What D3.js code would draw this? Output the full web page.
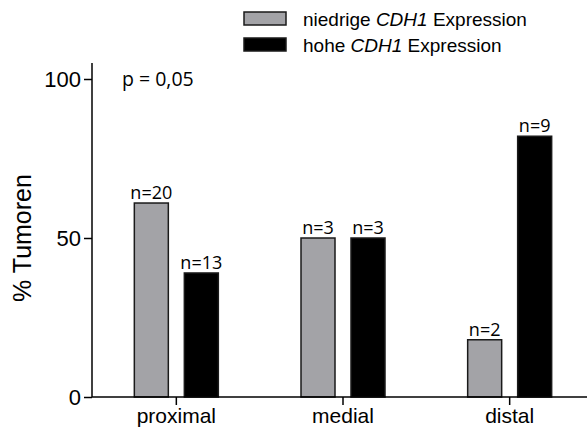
<!DOCTYPE html>
<html><head><meta charset="utf-8">
<script src="https://cdn.jsdelivr.net/npm/d3@7"></script>
<style>body{margin:0;background:#fff}svg{display:block}</style>
</head><body>
<script>
const categories = ["proximal", "medial", "distal"];
const seriesNames = ["niedrige", "hohe"];
const lowValues = [61, 50, 18];
const highValues = [39, 50, 82];
const lowCounts = ["n=20", "n=3", "n=2"];
const highCounts = ["n=13", "n=3", "n=9"];
const yTicks = [0, 50, 100];
const pText = "p = 0,05";

const W = 587, H = 434;
const svg = d3.select("body").append("svg").attr("width", W).attr("height", H);

const x0 = d3.scaleBand().domain(categories).range([93, 593]).padding(0);
const x1 = d3.scaleBand().domain([0, 1]).range([-42, 42]).paddingInner(0.32).paddingOuter(0);
const y = d3.scaleLinear().domain([0, 100]).range([397, 79]);

const colors = ["#a3a3a7", "#000000"];
const series = [lowValues, highValues];
const counts = [lowCounts, highCounts];

// bars
series.forEach((vals, si) => {
  const g = svg.append("g");
  g.selectAll("rect").data(vals).join("rect")
    .attr("x", (d, i) => x0(categories[i]) + x0.bandwidth() / 2 + x1(si))
    .attr("y", d => y(d))
    .attr("width", x1.bandwidth())
    .attr("height", d => y(0) - y(d))
    .attr("fill", colors[si])
    .attr("stroke", "#1a1a1a")
    .attr("stroke-width", 1.5);
  g.selectAll("text").data(vals).join("text")
    .attr("x", (d, i) => x0(categories[i]) + x0.bandwidth() / 2 + x1(si) + x1.bandwidth() / 2)
    .attr("y", d => y(d) - 4)
    .attr("text-anchor", "middle")
    .attr("font-family", "'Open Sans', sans-serif")
    .attr("font-size", 18)
    .attr("fill", "#000")
    .text((d, i) => counts[si][i]);
});

// y axis
const yAxis = svg.append("g").attr("transform", "translate(92,0)")
  .call(d3.axisLeft(y).tickValues(yTicks).tickSize(8).tickPadding(3));
yAxis.select(".domain").attr("d", "M0,63V397").attr("stroke-width", 1.5);
yAxis.selectAll(".tick line").attr("stroke-width", 1.5);
yAxis.selectAll(".tick text").attr("font-family", "'Liberation Sans', Arial, sans-serif").attr("font-size", 22).attr("fill", "#000");

// x axis
const xAxis = svg.append("g").attr("transform", "translate(0,397)")
  .call(d3.axisBottom(x0).tickSize(8).tickPadding(3));
xAxis.select(".domain").attr("d", "M92,0H587").attr("stroke-width", 1.5);
xAxis.selectAll(".tick line").attr("stroke-width", 1.5);
xAxis.selectAll(".tick text").attr("font-family", "'Liberation Sans', Arial, sans-serif").attr("font-size", 21).attr("fill", "#000");

// y label
svg.append("text")
  .attr("transform", "translate(31,238) rotate(-90)")
  .attr("text-anchor", "middle")
  .attr("font-family", "'Liberation Sans', Arial, sans-serif")
  .attr("font-size", 25)
  .text("% Tumoren");

// p value
svg.append("text").attr("x", 122).attr("y", 86)
  .attr("font-family", "'Open Sans', sans-serif").attr("font-size", 19.5)
  .text(pText);

// legend
series.forEach((_, si) => {
  const ly = 12 + si * 26;
  svg.append("rect").attr("x", 244).attr("y", ly).attr("width", 42).attr("height", 13)
    .attr("fill", colors[si]).attr("stroke", "#1a1a1a").attr("stroke-width", 1.5);
  const t = svg.append("text").attr("x", 303).attr("y", ly + 14)
    .attr("font-family", "'Liberation Sans', Arial, sans-serif").attr("font-size", 19);
  t.append("tspan").text(seriesNames[si] + " ");
  t.append("tspan").attr("font-style", "italic").text("CDH1");
  t.append("tspan").text(" Expression");
});
</script>
</body></html>
